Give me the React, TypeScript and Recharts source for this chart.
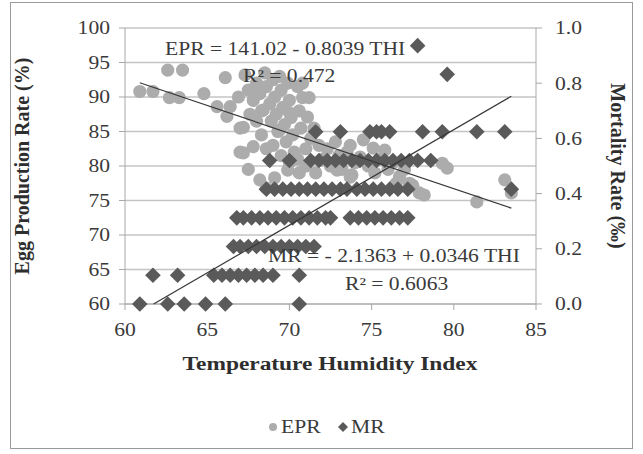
import React from 'react';
import { ScatterChart, Scatter, XAxis, YAxis, CartesianGrid } from 'recharts';

const FONT = "'Liberation Serif', 'Times New Roman', serif";
// the source figure is stretched sideways, so horizontal text is widened to match
const SX = 1.2;

const THI_TICKS = [60, 65, 70, 75, 80, 85];
const EPR_TICKS = [60, 65, 70, 75, 80, 85, 90, 95, 100];
const MR_TICKS = [0, 0.2, 0.4, 0.6, 0.8, 1.0];

// egg production rate observations: [THI, EPR %]
const EPR_POINTS: [number, number][] = [
    [60.9, 90.8], [61.7, 90.8], [62.6, 93.9], [63.5, 93.9], [62.7, 89.9], [63.3, 89.9],
    [64.8, 90.5], [66.1, 92.8], [65.6, 88.6], [66.2, 87.2], [66.4, 88.6], [67.0, 85.5],
    [67.0, 82.0], [66.9, 90.0], [67.3, 93.2],
    [67.5, 91.0], [67.8, 89.5], [68.0, 92.0], [68.2, 90.5], [68.3, 88.0], [68.5, 93.5],
    [68.6, 91.5], [68.8, 89.0], [68.9, 86.5], [69.0, 92.5], [69.1, 90.0], [69.2, 87.5],
    [69.3, 85.0], [69.4, 93.0], [69.5, 91.0], [69.6, 88.5], [69.7, 86.0], [69.8, 83.5],
    [69.9, 92.0], [70.0, 89.5], [70.1, 87.0], [70.2, 84.5], [70.3, 82.0], [70.5, 91.5],
    [70.6, 88.0], [70.7, 85.5], [70.8, 92.0], [70.8, 89.9], [71.2, 89.9], [71.1, 87.1],
    [70.0, 87.7], [67.2, 85.6], [68.4, 88.1], [69.4, 85.2], [67.2, 81.9], [67.8, 82.8],
    [68.3, 84.5], [68.6, 82.5], [68.0, 86.5], [67.6, 87.5], [69.0, 83.0], [69.5, 81.5],
    [70.0, 80.5], [70.5, 81.0], [71.0, 82.5], [71.3, 84.0], [71.5, 85.5], [71.0, 80.0],
    [69.1, 78.3], [69.9, 79.4], [70.6, 79.0], [71.6, 79.0], [67.5, 79.5], [68.2, 78.0],
    [68.6, 76.8],
    [71.8, 83.0], [72.0, 81.0], [72.3, 82.5], [72.5, 80.0], [72.8, 83.5], [73.0, 81.5],
    [73.2, 79.5], [73.5, 82.0], [73.7, 83.0], [74.0, 80.5], [74.3, 81.3], [74.5, 83.8],
    [74.8, 80.0], [75.1, 82.6], [75.2, 79.0], [75.5, 81.0], [75.8, 82.3], [76.0, 79.5],
    [76.3, 80.5], [76.7, 78.5], [77.0, 79.5], [72.9, 79.4], [73.8, 78.7], [73.7, 78.4],
    [72.0, 80.9], [77.3, 77.5], [77.5, 77.2], [77.9, 76.1], [78.2, 75.8], [76.5, 77.5],
    [79.3, 80.4], [79.6, 79.7], [81.4, 74.8], [83.1, 78.0], [83.5, 76.1]
];

// mortality rate observations, grouped by rate level (‰)
const MR_LEVELS = [0, 0.104, 0.208, 0.312, 0.416, 0.52, 0.624, 0.832, 0.936];
const MR_THI_BY_LEVEL = [
    [60.9, 62.6, 63.6, 64.9, 66.1, 70.6],
    [61.7, 63.2, 65.4, 65.9, 66.4, 66.9, 67.4, 67.9, 68.4, 69.0, 70.6],
    [66.6, 67.0, 67.5, 68.0, 68.5, 69.0, 69.5, 70.0, 70.5, 71.0, 71.5],
    [66.8, 67.2, 67.7, 68.2, 68.7, 69.2, 69.7, 70.2, 70.7, 71.2, 71.7, 72.2, 72.5,
        73.7, 74.2, 74.7, 75.2, 75.7, 76.2, 76.7, 77.2],
    [68.6, 69.1, 69.6, 70.1, 70.6, 71.1, 71.6, 72.1, 72.6, 73.1, 73.5, 74.1, 74.6,
        75.1, 75.6, 76.1, 76.6, 77.2, 83.5],
    [68.8, 70.0, 71.3, 71.8, 72.3, 72.8, 73.3, 73.8, 74.3, 74.8, 75.3, 75.8, 76.3,
        76.8, 77.3, 77.8, 78.6],
    [71.6, 73.1, 74.9, 75.3, 75.6, 76.1, 78.1, 79.3, 81.4, 83.1],
    [79.6],
    [77.8]
];

// linear trendlines: [intercept, slope] and THI span
const EPR_FIT = [141.02, -0.8039];
const EPR_FIT_RANGE = [60.9, 83.5];
const MR_FIT = [-2.1363, 0.0346];
const MR_FIT_RANGE = [61.74, 83.5];

const eprData = EPR_POINTS.map(([thi, epr]) => ({ thi, epr }));
const mrData = MR_LEVELS.flatMap((mr, i) => MR_THI_BY_LEVEL[i].map(thi => ({ thi, mr })));
const eprTrend = EPR_FIT_RANGE.map(thi => ({ thi, epr: EPR_FIT[0] + EPR_FIT[1] * thi }));
const mrTrend = MR_FIT_RANGE.map(thi => ({ thi, mr: MR_FIT[0] + MR_FIT[1] * thi }));

const EPR_COLOR = '#acacac';
const MR_COLOR = '#5a5a5a';
const AXIS_COLOR = '#a8a8a8';
const TEXT_COLOR = '#3a3a3a';

const CircleMark = (p: any) => <circle cx={p.cx} cy={p.cy} r={6.6} fill={EPR_COLOR} />;
const DiamondMark = (p: any) => {
    const h = 7.8;
    return (
        <polygon
            points={`${p.cx},${p.cy - h} ${p.cx + h},${p.cy} ${p.cx},${p.cy + h} ${p.cx - h},${p.cy}`}
            fill={MR_COLOR}
        />
    );
};
const NoMark = () => <g />;

const widen = (x: number) => `translate(${x} 0) scale(${SX} 1) translate(${-x} 0)`;

const Wide = ({ x, y, anchor = 'start', style, children }: any) => (
    <text x={x} y={y} textAnchor={anchor} transform={widen(x)} style={style}>
        {children}
    </text>
);

const tickStyle: React.CSSProperties = { fill: TEXT_COLOR, fontSize: 18, fontFamily: FONT };
const titleStyle: React.CSSProperties = { fontFamily: FONT, fontWeight: 'bold', fill: '#2e2e2e' };
const noteStyle: React.CSSProperties = { fontFamily: FONT, fontSize: 18, fill: TEXT_COLOR };

const makeTick = (dy: string, fmt: (v: number) => string) => (props: any) => {
    const { x, y, payload, textAnchor } = props;
    return (
        <text x={x} y={y} dy={dy} textAnchor={textAnchor} transform={widen(x)} style={tickStyle}>
            {fmt(payload.value)}
        </text>
    );
};

const xTick = makeTick('0.71em', v => String(v));
const leftTick = makeTick('0.355em', v => String(v));
const rightTick = makeTick('0.355em', v => v.toFixed(1));

export default function App() {
    return (
        <div style={{ position: 'absolute', left: 0, top: 0, width: 643, height: 454, background: '#fff' }}>
            <ScatterChart
                width={643}
                height={454}
                margin={{ top: 28, right: 0, bottom: 120, left: 0 }}
            >
                <CartesianGrid yAxisId="left" vertical={false} stroke="#c4c4c4" strokeWidth={1.5} />
                <XAxis
                    type="number"
                    dataKey="thi"
                    domain={[60, 85]}
                    ticks={THI_TICKS}
                    height={30}
                    axisLine={{ stroke: AXIS_COLOR }}
                    tickLine={{ stroke: AXIS_COLOR }}
                    tickSize={6}
                    tickMargin={13}
                    tick={xTick}
                />
                <YAxis
                    yAxisId="left"
                    type="number"
                    dataKey="epr"
                    domain={[60, 100]}
                    ticks={EPR_TICKS}
                    width={125}
                    axisLine={{ stroke: AXIS_COLOR }}
                    tickLine={{ stroke: AXIS_COLOR }}
                    tickSize={6}
                    tickMargin={9}
                    tick={leftTick}
                />
                <YAxis
                    yAxisId="right"
                    orientation="right"
                    type="number"
                    dataKey="mr"
                    domain={[0, 1]}
                    ticks={MR_TICKS}
                    width={107}
                    axisLine={{ stroke: AXIS_COLOR }}
                    tickLine={{ stroke: AXIS_COLOR }}
                    tickSize={6}
                    tickMargin={13}
                    tick={rightTick}
                />
                <Scatter yAxisId="left" data={eprData} shape={CircleMark} isAnimationActive={false} />
                <Scatter yAxisId="right" data={mrData} shape={DiamondMark} isAnimationActive={false} />
                <Scatter
                    yAxisId="left"
                    data={eprTrend}
                    shape={NoMark}
                    line={{ stroke: '#383838', strokeWidth: 1.2 }}
                    isAnimationActive={false}
                />
                <Scatter
                    yAxisId="right"
                    data={mrTrend}
                    shape={NoMark}
                    line={{ stroke: '#383838', strokeWidth: 1.2 }}
                    isAnimationActive={false}
                />
            </ScatterChart>
            <svg
                width={643}
                height={454}
                style={{ position: 'absolute', left: 0, top: 0, pointerEvents: 'none' }}
            >
                <rect x={10.5} y={2.5} width={622} height={446} fill="none" stroke="#9a9a9a" />
                <Wide x={165} y={55} style={noteStyle}>EPR = 141.02 - 0.8039 THI</Wide>
                <Wide x={243} y={82} style={noteStyle}>R² = 0.472</Wide>
                <Wide x={268} y={262} style={noteStyle}>MR = - 2.1363 + 0.0346 THI</Wide>
                <Wide x={345} y={290} style={noteStyle}>R² = 0.6063</Wide>
                <Wide x={330} y={370} anchor="middle" style={{ ...titleStyle, fontSize: 19.5 }}>
                    Temperature Humidity Index
                </Wide>
                <text
                    x={29}
                    y={166}
                    textAnchor="middle"
                    transform="rotate(-90 29 166)"
                    style={{ ...titleStyle, fontSize: 20 }}
                >
                    Egg Production Rate (%)
                </text>
                <text
                    x={611}
                    y={166}
                    textAnchor="middle"
                    transform="rotate(90 611 166)"
                    style={{ ...titleStyle, fontSize: 20 }}
                >
                    Mortality Rate (‰)
                </text>
                <circle cx={273} cy={427} r={4} fill={EPR_COLOR} />
                <Wide x={281} y={433} style={noteStyle}>EPR</Wide>
                <polygon points="343,422 348,427 343,432 338,427" fill={MR_COLOR} />
                <Wide x={351} y={433} style={noteStyle}>MR</Wide>
            </svg>
        </div>
    );
}
